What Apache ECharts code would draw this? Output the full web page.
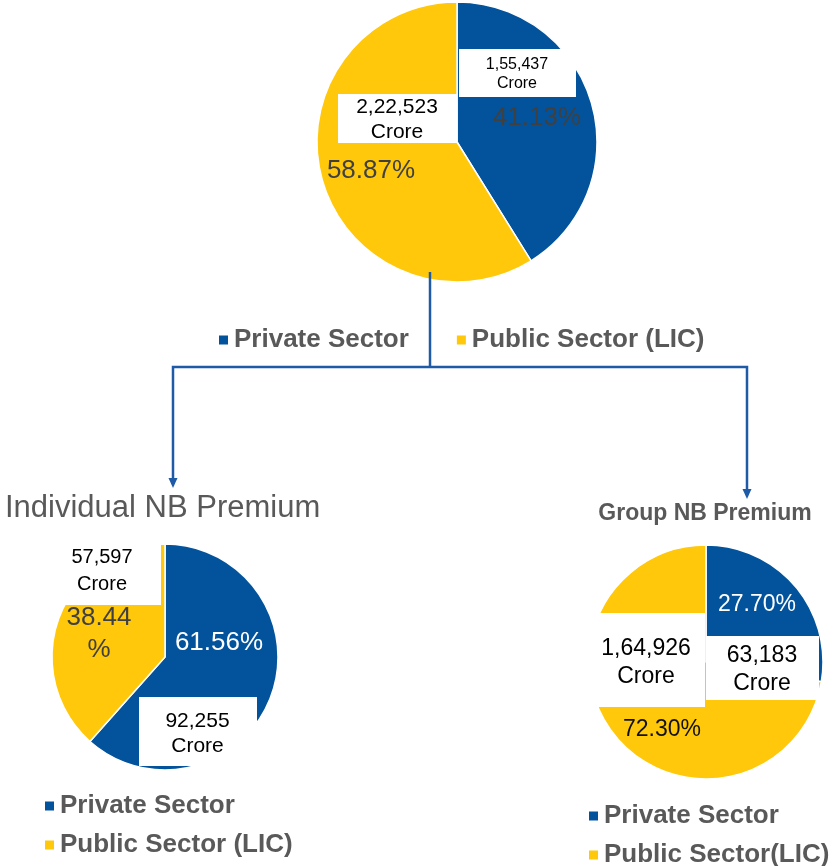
<!DOCTYPE html>
<html>
<head>
<meta charset="utf-8">
<script src="https://cdn.jsdelivr.net/npm/echarts@6/dist/echarts.min.js"></script>
<style>
  html, body { margin: 0; padding: 0; background: #fff; }
  #chart { width: 836px; height: 866px; }
</style>
</head>
<body>
<div id="chart"></div>
<script>
// New business premium of life insurers, private sector vs LIC (Rs. crore)
const sectors = ['Private Sector', 'Public Sector (LIC)'];
const groupSectors = ['Private Sector', 'Public Sector(LIC)'];
const totalPremium = [155437, 222523];
const individualPremium = [92255, 57597];
const groupPremium = [63183, 164926];
const individualTitle = 'Individual NB Premium';
const groupTitle = 'Group NB Premium';
const unitLabel = 'Crore';

const BLUE = '#03539C';
const YELLOW = '#FFC80B';
const GRAY = '#595959';
const LINE = '#1F5AA6';
const FONT = '"Liberation Sans", Arial, Helvetica, sans-serif';

// Indian digit grouping: 155437 -> 1,55,437
function indianGroup(n) {
  const s = String(Math.round(n));
  if (s.length <= 3) return s;
  const last3 = s.slice(-3);
  let rest = s.slice(0, -3);
  const parts = [];
  while (rest.length > 2) { parts.unshift(rest.slice(-2)); rest = rest.slice(0, -2); }
  if (rest) parts.unshift(rest);
  return parts.join(',') + ',' + last3;
}

// Layout of each pie: centre, radius, label anchors and the white label boxes
const pies = [
  {
    id: 'total', names: sectors, values: totalPremium, center: [457, 142], radius: 140,
    pct: { pos: [[537, 118], [371, 171]], size: 26, lh: 30, color: ['#404040', '#404040'], wrap: [false, false] },
    val: { pos: [[517, 74.5], [397, 120]], size: [16, 21], lh: [19, 25] },
    boxes: [[459, 49, 117, 48], [338, 94, 119, 49]]
  },
  {
    id: 'individual', names: sectors, values: individualPremium, center: [165, 657], radius: 113,
    pct: { pos: [[219, 643], [99, 634]], size: 26, lh: 32, color: ['#ffffff', '#404040'], wrap: [false, true] },
    val: { pos: [[197.5, 733.5], [102, 570.5]], size: [21, 20], lh: [25, 27] },
    boxes: [[139, 697, 118, 69], [40, 536, 121, 69]]
  },
  {
    id: 'group', names: groupSectors, values: groupPremium, center: [706, 662], radius: 117,
    pct: { pos: [[757, 605], [662, 730]], size: 23, lh: 28, color: ['#ffffff', '#111111'], wrap: [false, false] },
    val: { pos: [[762, 670], [646, 663]], size: [23, 23], lh: [28, 28] },
    boxes: [[706, 636, 113, 64], [585, 613, 120, 94]]
  }
];

const series = [];
const graphics = [];

// Coloured slices carrying the percentage labels
pies.forEach(p => {
  series.push({
    type: 'pie', id: p.id + '-share', center: p.center, radius: p.radius,
    startAngle: 90, clockwise: true, silent: true, z: 2,
    itemStyle: { borderColor: '#ffffff', borderWidth: 1.5 },
    label: {
      show: true, position: 'inside', fontFamily: FONT, fontSize: p.pct.size, lineHeight: p.pct.lh,
      formatter: params => {
        const t = params.percent.toFixed(2);
        return p.pct.wrap[params.dataIndex] ? t + '\n%' : t + '%';
      }
    },
    labelLine: { show: false },
    labelLayout: params => ({
      x: p.pct.pos[params.dataIndex][0], y: p.pct.pos[params.dataIndex][1],
      align: 'center', verticalAlign: 'middle'
    }),
    emphasis: { disabled: true },
    data: p.values.map((v, i) => ({
      name: p.names[i], value: v,
      itemStyle: { color: i === 0 ? BLUE : YELLOW },
      label: { color: p.pct.color[i] }
    }))
  });
  p.boxes.forEach(b => {
    graphics.push({
      type: 'rect', z: 5, silent: true,
      shape: { x: b[0], y: b[1], width: b[2], height: b[3] },
      style: { fill: '#ffffff' }
    });
  });
});

// Transparent copies of the same slices carrying the crore amounts
pies.forEach(p => {
  series.push({
    type: 'pie', id: p.id + '-amount', center: p.center, radius: p.radius,
    startAngle: 90, clockwise: true, silent: true, z: 10,
    itemStyle: { color: 'rgba(0,0,0,0)', borderWidth: 0 },
    label: {
      show: true, position: 'inside', fontFamily: FONT, color: '#000000',
      formatter: params => indianGroup(params.value) + '\n' + unitLabel
    },
    labelLine: { show: false },
    labelLayout: params => ({
      x: p.val.pos[params.dataIndex][0], y: p.val.pos[params.dataIndex][1],
      align: 'center', verticalAlign: 'middle'
    }),
    emphasis: { disabled: true },
    data: p.values.map((v, i) => ({
      name: p.names[i], value: v,
      label: { fontSize: p.val.size[i], lineHeight: p.val.lh[i] }
    }))
  });
});

// Connector from the total pie to the two breakdown pies
const connector = { type: 'polyline', z: 6, silent: true, style: { stroke: LINE, lineWidth: 2.5, fill: null } };
graphics.push(Object.assign({}, connector, { shape: { points: [[430, 272], [430, 367]] } }));
graphics.push(Object.assign({}, connector, { shape: { points: [[173, 479], [173, 367], [747, 367], [747, 490]] } }));
graphics.push({ type: 'polygon', z: 6, silent: true, shape: { points: [[168.5, 478], [177.5, 478], [173, 488]] }, style: { fill: LINE } });
graphics.push({ type: 'polygon', z: 6, silent: true, shape: { points: [[742.5, 489], [751.5, 489], [747, 499]] }, style: { fill: LINE } });

// Titles of the two breakdown pies
graphics.push({
  type: 'text', z: 6, silent: true, x: 5, y: 508,
  style: { text: individualTitle, fontFamily: FONT, fontSize: 31, fill: GRAY, align: 'left', verticalAlign: 'middle' }
});
graphics.push({
  type: 'text', z: 6, silent: true, x: 705, y: 514,
  style: { text: groupTitle, fontFamily: FONT, fontSize: 23, fontWeight: 'bold', fill: GRAY, align: 'center', verticalAlign: 'middle' }
});

const legendText = { fontFamily: FONT, fontSize: 26, fontWeight: 'bold', color: GRAY };
const legendBase = { icon: 'rect', itemWidth: 11, itemHeight: 11, selectedMode: false, padding: 0, textStyle: legendText };

const option = {
  animation: false,
  backgroundColor: '#ffffff',
  legend: [
    Object.assign({}, legendBase, { data: sectors, orient: 'horizontal', left: 217, top: 327, itemGap: 46 }),
    Object.assign({}, legendBase, { data: sectors, orient: 'vertical', left: 43, top: 793, height: 80, itemGap: 13 }),
    Object.assign({}, legendBase, { data: groupSectors, orient: 'vertical', left: 587, top: 803, height: 80, itemGap: 13 })
  ],
  graphic: { elements: graphics },
  series: series
};

const chart = echarts.init(document.getElementById('chart'), null, { renderer: 'canvas' });
chart.setOption(option);
</script>
</body>
</html>
